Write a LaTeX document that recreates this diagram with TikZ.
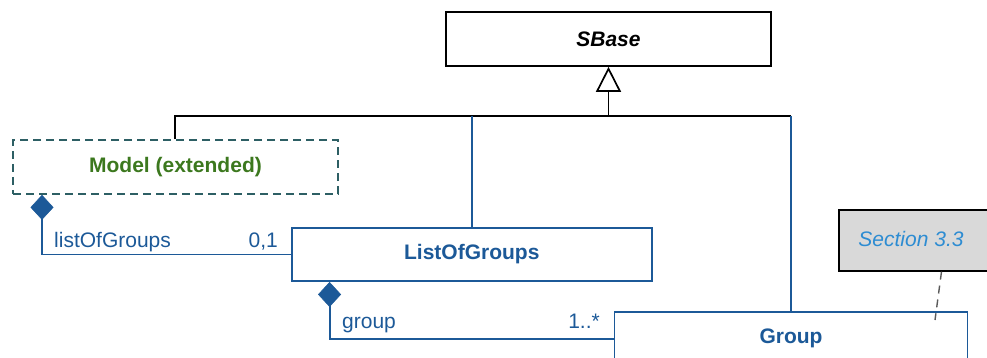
\documentclass[tikz,border=0pt]{standalone}
\usepackage{fontspec}
\setmainfont{Liberation Sans}
\usetikzlibrary{arrows.meta}
\definecolor{umlblue}{RGB}{28,89,152}
\definecolor{modelteal}{RGB}{45,95,100}
\definecolor{modelgreen}{RGB}{60,120,30}
\definecolor{notegray}{RGB}{217,217,217}
\definecolor{notetext}{RGB}{45,140,210}
\definecolor{dashgray}{RGB}{90,90,90}
\tikzset{
  every node/.style={font=\fontsize{21}{24}\selectfont},
  classbox/.style={draw=umlblue, line width=1.9pt, fill=white, inner sep=0pt,
    text=umlblue, font=\fontsize{21}{24}\selectfont\bfseries},
  basebox/.style={draw=black, line width=1.7pt, fill=white, inner sep=0pt,
    font=\fontsize{21}{24}\selectfont\bfseries\itshape},
  modelbox/.style={draw=modelteal, line width=1.7pt, dash pattern=on 8pt off 5pt,
    inner sep=0pt, text=modelgreen, font=\fontsize{21}{24}\selectfont\bfseries},
  notebox/.style={draw=black, line width=1.7pt, fill=notegray, inner sep=0pt},
  notelabel/.style={text=notetext, font=\fontsize{21}{24}\selectfont\itshape, inner sep=0pt},
  genline/.style={draw=black, line width=1.7pt},
  assoc/.style={draw=umlblue, line width=1.9pt},
  comp/.style={draw=umlblue, line width=1.9pt,
    {Diamond[length=25pt,width=23pt,fill=umlblue,line width=0.5pt]}-},
  rolelabel/.style={text=umlblue, inner sep=0pt},
  notelink/.style={draw=dashgray, line width=1.4pt, dash pattern=on 8pt off 6pt},
}
\begin{document}
\begin{tikzpicture}[x=1pt,y=-1pt]
\useasboundingbox (0,0) rectangle (987,358);
\clip (0,0) rectangle (987,358);

% nodes
\node[basebox, minimum width=325pt, minimum height=54pt] (sbase) at (608.5,39) {SBase};
\node[modelbox, minimum width=325pt, minimum height=54pt] (model) at (175.5,167) {Model (extended)};
\node[classbox, minimum width=360pt, minimum height=53pt] (log) at (471.8,254.5) {ListOfGroups};
\node[classbox, minimum width=353pt, minimum height=52pt] (group) at (791,338) {Group};
\node[notebox, anchor=north west, minimum width=180pt, minimum height=61pt] (note) at (838,209) {};
\node[notelabel] (notetxt) at (911,239) {Section 3.3};

% generalization tree
\coordinate (junc) at (sbase.south |- 0,116);
\draw[genline] (model.north -| 175,0) |- (junc);
\draw[genline] (junc) -- (group.north |- junc);
\draw[genline, -{Triangle[open, length=25pt, width=25pt, line width=1.7pt]}] (junc) -- (sbase.south);
\draw[assoc] (log.north |- junc) -- (log.north);
\draw[assoc] (group.north |- junc) -- (group.north);

% compositions
\draw[comp] ([xshift=-133.5pt]model.south) |- (log.west);
\draw[comp] ([xshift=38.7pt]log.south west) |- ([yshift=-1pt]group.west);

% role labels
\node[rolelabel, anchor=base west] (l1) at (54,247) {listOfGroups};
\node[rolelabel, anchor=base east] (l2) at (278,247) {0,1};
\node[rolelabel, anchor=base west] (l3) at (342,328) {group};
\node[rolelabel, anchor=base east] (l4) at (600,328) {1..*};

% note link
\coordinate (noteend) at (935,320);
\draw[notelink] ([xshift=103.5pt]note.south west) -- (noteend);
\end{tikzpicture}
\end{document}
